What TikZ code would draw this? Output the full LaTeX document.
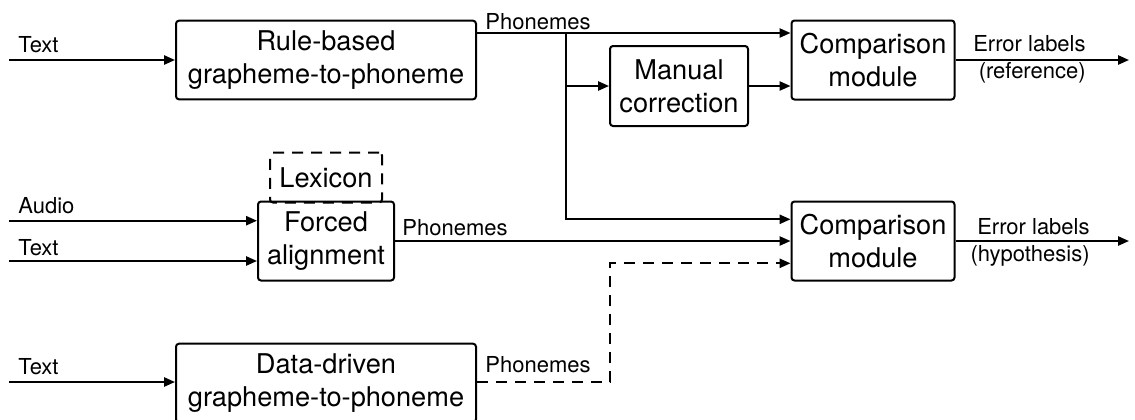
\documentclass[tikz,border=0pt]{standalone}
\usepackage{fontspec}
\setmainfont{TeX Gyre Heros}
\usetikzlibrary{arrows.meta}

\tikzset{
  block/.style={draw, line width=1pt, rounded corners=1.5pt, align=center,
    inner sep=0pt, font=\fontsize{13.6}{16.5}\selectfont},
  lbl/.style={inner sep=0pt, font=\fontsize{11}{13.5}\selectfont},
  arr/.style={line width=1pt, -{Triangle[length=5.5pt,width=4.6pt]}},
  wire/.style={line width=1pt},
  dashline/.style={dash pattern=on 5.5pt off 4pt},
}

\begin{document}
\begin{tikzpicture}[x=0.5pt,y=-0.5pt]
            \useasboundingbox (0,0) rectangle (1135,419);

            \coordinate (Rp) at (326,60);
            \coordinate (Mp) at (679,86);
            \coordinate (C1p) at (873,60);
            \coordinate (Lp) at (326,177.5);
            \coordinate (Fp) at (326,241);
            \coordinate (C2p) at (873,241);
            \coordinate (Dp) at (326,383);

            \node[block, minimum width=150pt, minimum height=39.3pt] (R) at (Rp) {Rule-based\\grapheme-to-phoneme};
            \node[block, minimum width=69pt, minimum height=40pt] (M) at (Mp) {Manual\\correction};
            \node[block, minimum width=81.5pt, minimum height=39.5pt] (C1) at (C1p) {Comparison\\module};
            \node[block, dashline, minimum width=56pt, minimum height=25pt] (L) at (Lp) {Lexicon};
            \node[block, minimum width=68pt, minimum height=39.5pt] (F) at (Fp) {Forced\\alignment};
            \node[block, minimum width=81.5pt, minimum height=39.5pt] (C2) at (C2p) {Comparison\\module};
            \node[block, minimum width=150pt, minimum height=39.3pt] (D) at (Dp) {Data-driven\\grapheme-to-phoneme};

            % inputs
            \coordinate (inR) at (9,60);
            \coordinate (inA) at (9,220.7);
            \coordinate (inT) at (9,261);
            \coordinate (inD) at (9,382);
            \draw[arr] (inR) -- (R);
            \draw[arr] (inA) -- (inA -| F.west);
            \draw[arr] (inT) -- (inT -| F.west);
            \draw[arr] (inD) -- (inD -| D.west);
            \node[lbl, anchor=west] (tR) at (18,45) {Text};
            \node[lbl, anchor=west] (tA) at (18,206) {Audio};
            \node[lbl, anchor=west] (tT) at (18,248) {Text};
            \node[lbl, anchor=west] (tD) at (18,367) {Text};

            % phonemes
            \coordinate (J) at (565.5,33);
            \coordinate (J2) at (565.5,219.3);
            \coordinate (B) at (610,263.3);
            \draw[arr] (R.east |- J) -- (J -| C1.west);
            \draw[arr] (J |- M) -- (M);
            \draw[arr] (J) -- (J2) -- (J2 -| C2.west);
            \draw[arr] (M.east) -- (M.east -| C1.west);
            \draw[arr] (F) -- (C2);
            \draw[arr, dashline] (inD -| D.east) -| (B) -- (B -| C2.west);
            \node[lbl, anchor=west] (pR) at (485,22) {Phonemes};
            \node[lbl, anchor=west] (pF) at (402,228) {Phonemes};
            \node[lbl, anchor=west] (pD) at (485,365) {Phonemes};

            % outputs
            \coordinate (o1) at (1129,60);
            \coordinate (o2) at (1129,241);
            \draw[arr] (C1) -- (o1);
            \draw[arr] (C2) -- (o2);
            \node[lbl, align=right, anchor=east] (e1) at (1086,59.5) {Error labels\\(reference)};
            \node[lbl, align=right, anchor=east] (e2) at (1090,242.5) {Error labels\\(hypothesis)};

        \end{tikzpicture}
\end{document}
